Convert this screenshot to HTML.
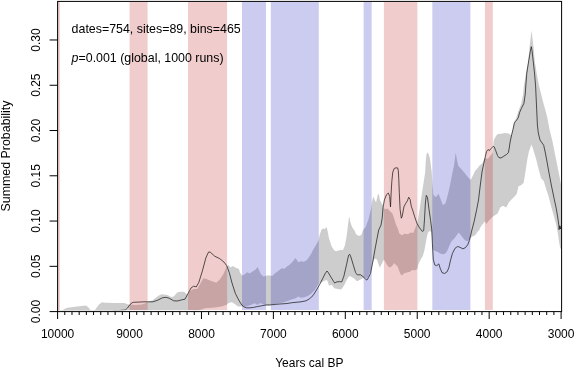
<!DOCTYPE html>
<html><head><meta charset="utf-8"><title>SPD model test</title>
<style>
html,body{margin:0;padding:0;background:#fff;}
body{width:575px;height:370px;overflow:hidden;}
svg{display:block;}
text{font-family:"Liberation Sans",Arial,Helvetica,sans-serif;font-size:12px;fill:#000;}
</style></head><body>
<svg width="575" height="370" viewBox="0 0 575 370">
<rect width="575" height="370" fill="#fff"/>
<defs><clipPath id="cp"><rect x="57.6" y="1.4" width="504.0" height="308.90000000000003"/></clipPath></defs>
<g clip-path="url(#cp)">
<polygon points="57.6,311.5 62.0,311.0 63.5,309.5 67.2,307.8 75.0,306.8 86.0,305.6 88.0,307.0 91.5,311.3 94.1,311.3 96.0,308.5 99.0,304.5 102.0,302.3 105.0,302.8 115.0,303.0 124.6,303.1 127.2,304.3 129.6,304.6 135.0,304.9 142.0,304.6 145.0,303.5 147.6,301.9 152.8,300.2 158.0,296.1 161.5,294.3 167.6,294.9 171.0,297.0 173.7,296.6 177.2,292.6 179.8,291.7 184.1,291.7 185.9,293.5 187.6,294.3 190.2,290.9 193.7,289.1 197.2,289.1 200.7,283.0 203.3,278.2 205.9,278.7 207.6,279.6 212.0,281.3 216.3,282.7 219.8,279.6 223.3,274.3 226.7,266.5 228.5,264.8 230.2,267.4 232.8,266.0 235.4,267.4 238.9,269.1 240.0,272.6 242.1,275.7 245.2,274.0 247.0,272.3 249.6,273.5 253.0,271.2 255.7,269.5 257.4,267.0 258.8,269.5 260.9,274.3 263.5,276.4 266.1,275.7 268.7,275.2 272.2,276.1 274.8,273.5 278.3,270.9 281.7,268.3 284.3,268.8 287.0,266.5 289.6,264.8 292.2,262.2 294.8,258.7 295.7,258.3 298.3,262.2 300.9,261.3 303.5,261.8 306.1,260.8 308.7,257.8 311.3,253.5 313.0,250.0 316.0,245.0 318.3,241.0 319.6,235.2 321.3,230.0 323.0,228.6 324.8,229.0 326.5,226.9 327.4,230.0 329.1,238.7 331.7,246.5 334.3,250.5 336.1,251.2 340.4,250.0 343.0,250.0 344.8,245.7 346.5,237.0 347.4,230.0 348.6,219.9 349.3,216.4 350.3,221.7 351.7,226.0 353.5,229.5 354.3,230.0 356.1,234.3 358.7,236.1 361.3,234.9 363.0,230.0 365.7,226.9 368.3,219.9 370.9,209.5 372.3,199.9 373.5,196.4 374.7,199.9 376.1,202.5 377.8,194.7 378.7,193.8 379.9,199.9 381.7,203.4 383.4,206.0 384.8,209.5 387.4,208.6 390.0,211.2 392.6,213.8 394.3,219.0 396.1,225.1 397.8,228.6 399.3,233.5 402.0,235.2 404.6,233.8 408.0,234.3 410.7,232.6 413.3,233.1 414.5,230.0 417.5,222.0 419.5,210.0 421.5,196.0 423.2,185.0 424.6,176.0 425.2,172.0 425.7,161.7 426.5,153.9 427.4,152.6 428.7,154.3 430.0,159.1 430.9,166.0 431.7,172.0 432.3,182.0 433.3,194.7 435.9,197.3 438.5,193.8 440.6,199.0 442.8,205.1 445.4,203.4 447.2,197.3 448.9,190.3 450.7,181.7 452.4,173.0 453.9,166.0 454.8,159.4 455.7,152.4 456.9,159.4 458.3,166.0 460.2,167.7 464.6,173.0 468.0,177.3 470.7,179.9 473.3,174.7 475.0,171.0 477.6,168.2 479.1,166.0 482.6,162.9 484.9,158.0 486.5,158.5 488.0,158.7 489.7,156.5 491.5,154.4 492.8,152.5 493.3,146.0 493.6,141.0 494.8,138.3 496.1,135.7 497.8,133.9 501.3,133.7 504.8,133.0 508.7,133.6 510.9,135.0 511.5,134.6 512.7,129.4 513.9,123.3 514.6,121.0 516.1,118.5 518.7,110.3 521.3,103.4 523.0,94.7 523.9,86.0 526.0,73.0 528.1,62.0 529.6,46.6 531.5,30.6 533.5,46.6 534.9,62.0 537.0,75.0 539.1,86.0 541.3,94.7 543.5,103.4 545.7,111.2 547.4,118.0 549.6,129.7 552.3,140.5 555.0,154.0 557.7,167.6 560.4,181.0 561.8,189.0 561.8,250.0 560.2,248.0 559.2,243.0 557.8,233.0 556.3,225.0 553.9,216.0 551.3,207.0 548.5,196.0 546.3,189.5 545.4,186.2 543.7,181.0 541.1,178.3 538.5,168.8 535.9,158.3 533.3,149.7 531.5,144.4 528.9,151.4 527.2,160.1 525.4,172.3 523.7,182.7 521.1,185.3 518.5,186.2 516.7,194.0 514.1,197.0 511.5,199.6 508.9,202.2 506.3,207.4 502.8,205.7 500.2,207.4 497.6,213.5 495.0,215.2 492.4,217.0 488.9,220.4 486.3,223.9 485.1,221.3 482.0,225.1 480.2,227.7 479.3,230.0 477.6,231.7 475.3,235.2 473.3,236.1 471.5,237.0 470.7,237.5 468.0,241.3 465.4,240.4 462.8,237.8 460.2,234.3 458.5,232.6 456.7,235.2 454.1,238.7 451.5,241.3 449.3,245.7 447.2,250.9 445.4,253.5 442.8,254.3 440.2,253.5 437.6,251.7 435.0,250.9 433.0,249.5 432.2,240.0 431.5,232.5 430.0,231.0 428.4,231.7 427.0,236.0 425.8,243.0 424.5,250.0 422.8,256.1 421.1,258.7 418.5,263.9 417.3,269.1 415.0,270.3 412.4,270.0 409.8,271.7 407.2,272.6 404.6,273.1 402.0,275.6 400.2,273.5 397.6,266.5 395.0,263.9 394.3,263.0 391.7,266.5 389.1,267.4 386.5,263.9 383.9,259.6 381.3,264.8 379.6,267.4 377.0,259.6 374.3,258.7 372.3,263.9 371.7,267.0 370.5,271.0 369.0,275.0 367.0,278.5 365.0,277.5 363.6,278.0 360.4,279.6 357.0,281.3 354.3,278.7 351.7,277.0 349.1,276.1 346.5,280.4 343.9,285.7 341.3,289.5 337.8,289.1 334.3,288.3 331.7,284.8 329.1,285.7 327.0,280.0 325.0,280.5 322.0,282.0 319.1,283.5 317.4,285.7 314.8,290.0 311.3,293.5 307.8,296.1 304.3,297.3 300.9,297.8 298.3,296.6 295.7,298.3 292.2,299.2 287.0,301.3 283.0,302.5 279.5,303.0 275.1,303.9 270.8,305.0 268.0,305.5 266.0,305.0 263.8,304.4 262.1,303.7 260.8,303.3 259.0,303.7 257.7,304.8 256.4,304.4 254.7,303.3 253.4,303.7 252.1,304.4 249.9,305.3 247.3,306.2 243.8,306.8 241.9,306.6 238.0,306.5 235.4,304.5 232.0,302.2 228.5,303.0 226.7,304.8 221.5,306.5 214.6,307.4 205.0,308.3 200.0,310.0 197.0,311.5 57.6,311.5" fill="#cdcdcd"/>
<rect x="57.6" y="1.9" width="2.2" height="308.4" fill="rgba(179,0,0,0.2)"/>
<rect x="129.6" y="1.9" width="18.0" height="308.4" fill="rgba(179,0,0,0.2)"/>
<rect x="188" y="1.9" width="39.1" height="308.4" fill="rgba(179,0,0,0.2)"/>
<rect x="242" y="1.9" width="24.0" height="308.4" fill="rgba(0,0,179,0.2)"/>
<rect x="270.8" y="1.9" width="48.0" height="308.4" fill="rgba(0,0,179,0.2)"/>
<rect x="363.6" y="1.9" width="8.1" height="308.4" fill="rgba(0,0,179,0.2)"/>
<rect x="383.9" y="1.9" width="33.5" height="308.4" fill="rgba(179,0,0,0.2)"/>
<rect x="432.3" y="1.9" width="38.1" height="308.4" fill="rgba(0,0,179,0.2)"/>
<rect x="484.9" y="1.9" width="7.9" height="308.4" fill="rgba(179,0,0,0.2)"/>

<polyline points="57.6,311.0 110.0,311.0 114.0,310.7 120.0,310.5 125.4,310.0 127.5,308.0 130.0,304.5 132.0,302.8 133.5,302.3 145.0,301.8 152.8,301.8 157.2,300.4 162.4,297.8 165.9,297.3 169.3,298.3 173.7,300.8 177.2,301.0 181.5,299.9 185.0,299.2 187.6,294.3 191.1,287.9 193.7,286.2 196.3,286.9 198.9,282.2 202.4,270.9 205.9,257.8 208.5,252.1 210.2,252.1 214.6,256.1 219.8,258.7 224.1,262.2 226.7,265.7 229.3,272.6 232.0,283.0 235.4,293.5 237.7,298.1 239.9,302.0 241.9,305.0 243.8,306.8 246.4,307.8 249.9,307.8 253.4,307.4 257.7,306.5 262.1,305.7 266.0,305.0 270.8,304.9 275.1,304.4 281.2,303.9 286.0,303.6 292.2,302.7 300.9,301.8 306.1,300.8 309.6,298.7 313.0,295.6 316.5,290.0 320.0,283.9 322.6,278.7 325.2,273.5 327.0,271.0 328.3,272.6 330.9,277.0 333.5,281.3 334.7,283.0 337.0,281.8 339.6,281.7 341.8,281.8 343.9,276.1 346.5,264.8 348.6,255.2 349.7,254.3 350.9,257.0 353.5,265.7 355.6,272.6 357.3,274.9 360.4,274.7 363.0,276.6 365.7,279.2 366.9,280.1 368.3,277.8 370.5,273.5 372.6,263.0 374.7,250.9 377.0,238.7 378.7,230.0 381.0,225.1 382.2,218.2 383.0,207.7 384.4,199.9 386.5,194.7 388.3,193.0 389.7,196.4 390.5,206.9 391.2,192.0 391.8,181.6 392.8,172.0 394.3,168.4 396.0,167.8 397.6,167.9 398.3,170.5 398.8,179.5 399.3,192.4 400.1,209.5 401.3,218.2 402.2,216.4 403.9,206.9 405.7,203.4 407.4,200.8 408.7,197.2 410.1,199.5 411.3,206.3 413.0,211.2 414.7,216.8 417.0,223.5 419.5,227.8 422.3,231.4 423.7,230.6 424.5,219.0 425.4,203.0 426.3,195.4 427.5,197.6 428.9,208.5 430.6,220.5 431.8,230.0 432.4,243.9 433.3,259.6 434.7,264.8 436.7,265.7 438.8,263.9 440.2,268.3 442.0,272.6 444.6,273.5 447.2,271.7 448.9,267.4 450.7,259.6 452.4,253.5 455.0,248.3 457.6,246.5 460.2,247.4 462.8,248.8 465.4,247.7 467.7,244.8 469.4,240.4 470.7,235.2 471.9,230.0 474.1,221.7 476.7,209.5 478.5,200.0 480.2,186.0 482.0,172.0 483.7,163.9 485.1,157.6 486.5,151.6 488.0,149.5 489.4,150.6 491.1,148.5 493.2,146.3 494.3,147.0 495.7,150.6 497.5,155.5 498.9,157.6 501.0,158.0 503.8,156.2 506.6,154.4 508.4,152.7 509.4,147.0 510.1,142.0 511.7,134.6 513.0,129.4 514.3,123.3 515.2,121.6 517.0,119.8 518.3,117.5 519.6,112.5 521.3,108.6 523.9,103.4 525.2,94.7 525.8,86.0 526.8,73.0 528.7,61.0 530.3,51.5 531.3,46.7 532.0,50.5 533.2,61.0 534.5,73.0 535.6,86.0 536.2,99.0 536.8,112.0 537.4,125.0 538.3,133.0 540.0,140.0 543.7,145.3 545.4,153.1 547.2,162.7 548.9,172.3 551.5,186.0 554.1,198.5 556.3,208.7 558.0,219.1 558.8,225.2 559.1,229.6 559.8,225.7 560.5,229.0 561.3,226.0" fill="none" stroke="#111" stroke-width="0.7" stroke-linejoin="round"/>
</g>
<g stroke="#000" stroke-width="1" fill="none">
<rect x="57.6" y="1.4" width="504.0" height="310.20000000000005"/>
<line x1="561.10" y1="311.6" x2="561.10" y2="319.0" />
<line x1="553.91" y1="311.6" x2="553.91" y2="315.0" />
<line x1="546.71" y1="311.6" x2="546.71" y2="315.0" />
<line x1="539.52" y1="311.6" x2="539.52" y2="315.0" />
<line x1="532.33" y1="311.6" x2="532.33" y2="315.0" />
<line x1="525.14" y1="311.6" x2="525.14" y2="315.0" />
<line x1="517.94" y1="311.6" x2="517.94" y2="315.0" />
<line x1="510.75" y1="311.6" x2="510.75" y2="315.0" />
<line x1="503.56" y1="311.6" x2="503.56" y2="315.0" />
<line x1="496.36" y1="311.6" x2="496.36" y2="315.0" />
<line x1="489.17" y1="311.6" x2="489.17" y2="319.0" />
<line x1="481.98" y1="311.6" x2="481.98" y2="315.0" />
<line x1="474.79" y1="311.6" x2="474.79" y2="315.0" />
<line x1="467.59" y1="311.6" x2="467.59" y2="315.0" />
<line x1="460.40" y1="311.6" x2="460.40" y2="315.0" />
<line x1="453.21" y1="311.6" x2="453.21" y2="315.0" />
<line x1="446.01" y1="311.6" x2="446.01" y2="315.0" />
<line x1="438.82" y1="311.6" x2="438.82" y2="315.0" />
<line x1="431.63" y1="311.6" x2="431.63" y2="315.0" />
<line x1="424.44" y1="311.6" x2="424.44" y2="315.0" />
<line x1="417.24" y1="311.6" x2="417.24" y2="319.0" />
<line x1="410.05" y1="311.6" x2="410.05" y2="315.0" />
<line x1="402.86" y1="311.6" x2="402.86" y2="315.0" />
<line x1="395.66" y1="311.6" x2="395.66" y2="315.0" />
<line x1="388.47" y1="311.6" x2="388.47" y2="315.0" />
<line x1="381.28" y1="311.6" x2="381.28" y2="315.0" />
<line x1="374.09" y1="311.6" x2="374.09" y2="315.0" />
<line x1="366.89" y1="311.6" x2="366.89" y2="315.0" />
<line x1="359.70" y1="311.6" x2="359.70" y2="315.0" />
<line x1="352.51" y1="311.6" x2="352.51" y2="315.0" />
<line x1="345.31" y1="311.6" x2="345.31" y2="319.0" />
<line x1="338.12" y1="311.6" x2="338.12" y2="315.0" />
<line x1="330.93" y1="311.6" x2="330.93" y2="315.0" />
<line x1="323.74" y1="311.6" x2="323.74" y2="315.0" />
<line x1="316.54" y1="311.6" x2="316.54" y2="315.0" />
<line x1="309.35" y1="311.6" x2="309.35" y2="315.0" />
<line x1="302.16" y1="311.6" x2="302.16" y2="315.0" />
<line x1="294.96" y1="311.6" x2="294.96" y2="315.0" />
<line x1="287.77" y1="311.6" x2="287.77" y2="315.0" />
<line x1="280.58" y1="311.6" x2="280.58" y2="315.0" />
<line x1="273.39" y1="311.6" x2="273.39" y2="319.0" />
<line x1="266.19" y1="311.6" x2="266.19" y2="315.0" />
<line x1="259.00" y1="311.6" x2="259.00" y2="315.0" />
<line x1="251.81" y1="311.6" x2="251.81" y2="315.0" />
<line x1="244.61" y1="311.6" x2="244.61" y2="315.0" />
<line x1="237.42" y1="311.6" x2="237.42" y2="315.0" />
<line x1="230.23" y1="311.6" x2="230.23" y2="315.0" />
<line x1="223.04" y1="311.6" x2="223.04" y2="315.0" />
<line x1="215.84" y1="311.6" x2="215.84" y2="315.0" />
<line x1="208.65" y1="311.6" x2="208.65" y2="315.0" />
<line x1="201.46" y1="311.6" x2="201.46" y2="319.0" />
<line x1="194.26" y1="311.6" x2="194.26" y2="315.0" />
<line x1="187.07" y1="311.6" x2="187.07" y2="315.0" />
<line x1="179.88" y1="311.6" x2="179.88" y2="315.0" />
<line x1="172.69" y1="311.6" x2="172.69" y2="315.0" />
<line x1="165.49" y1="311.6" x2="165.49" y2="315.0" />
<line x1="158.30" y1="311.6" x2="158.30" y2="315.0" />
<line x1="151.11" y1="311.6" x2="151.11" y2="315.0" />
<line x1="143.91" y1="311.6" x2="143.91" y2="315.0" />
<line x1="136.72" y1="311.6" x2="136.72" y2="315.0" />
<line x1="129.53" y1="311.6" x2="129.53" y2="319.0" />
<line x1="122.34" y1="311.6" x2="122.34" y2="315.0" />
<line x1="115.14" y1="311.6" x2="115.14" y2="315.0" />
<line x1="107.95" y1="311.6" x2="107.95" y2="315.0" />
<line x1="100.76" y1="311.6" x2="100.76" y2="315.0" />
<line x1="93.56" y1="311.6" x2="93.56" y2="315.0" />
<line x1="86.37" y1="311.6" x2="86.37" y2="315.0" />
<line x1="79.18" y1="311.6" x2="79.18" y2="315.0" />
<line x1="71.99" y1="311.6" x2="71.99" y2="315.0" />
<line x1="64.79" y1="311.6" x2="64.79" y2="315.0" />
<line x1="57.60" y1="311.6" x2="57.60" y2="319.0" />

<line x1="57.6" y1="311.60" x2="49.6" y2="311.60" />
<line x1="57.6" y1="266.33" x2="49.6" y2="266.33" />
<line x1="57.6" y1="221.06" x2="49.6" y2="221.06" />
<line x1="57.6" y1="175.79" x2="49.6" y2="175.79" />
<line x1="57.6" y1="130.52" x2="49.6" y2="130.52" />
<line x1="57.6" y1="85.25" x2="49.6" y2="85.25" />
<line x1="57.6" y1="39.98" x2="49.6" y2="39.98" />

</g>
<text x="561.1" y="338.4" text-anchor="middle">3000</text>
<text x="489.2" y="338.4" text-anchor="middle">4000</text>
<text x="417.2" y="338.4" text-anchor="middle">5000</text>
<text x="345.3" y="338.4" text-anchor="middle">6000</text>
<text x="273.4" y="338.4" text-anchor="middle">7000</text>
<text x="201.5" y="338.4" text-anchor="middle">8000</text>
<text x="129.5" y="338.4" text-anchor="middle">9000</text>
<text x="57.6" y="338.4" text-anchor="middle">10000</text>

<text transform="translate(40,311.6) rotate(-90)" text-anchor="middle">0.00</text>
<text transform="translate(40,266.3) rotate(-90)" text-anchor="middle">0.05</text>
<text transform="translate(40,221.1) rotate(-90)" text-anchor="middle">0.10</text>
<text transform="translate(40,175.8) rotate(-90)" text-anchor="middle">0.15</text>
<text transform="translate(40,130.5) rotate(-90)" text-anchor="middle">0.20</text>
<text transform="translate(40,85.2) rotate(-90)" text-anchor="middle">0.25</text>
<text transform="translate(40,40.0) rotate(-90)" text-anchor="middle">0.30</text>

<text transform="translate(9.6,156) rotate(-90)" text-anchor="middle" style="font-size:12.4px">Summed Probability</text>
<text x="309.3" y="367.4" text-anchor="middle">Years cal BP</text>
<text x="71.6" y="33" style="font-size:12.4px">dates=754, sites=89, bins=465</text>
<text x="71.6" y="62" style="font-size:12.4px"><tspan font-style="italic">p</tspan>=0.001 (global, 1000 runs)</text>
</svg>
</body></html>
